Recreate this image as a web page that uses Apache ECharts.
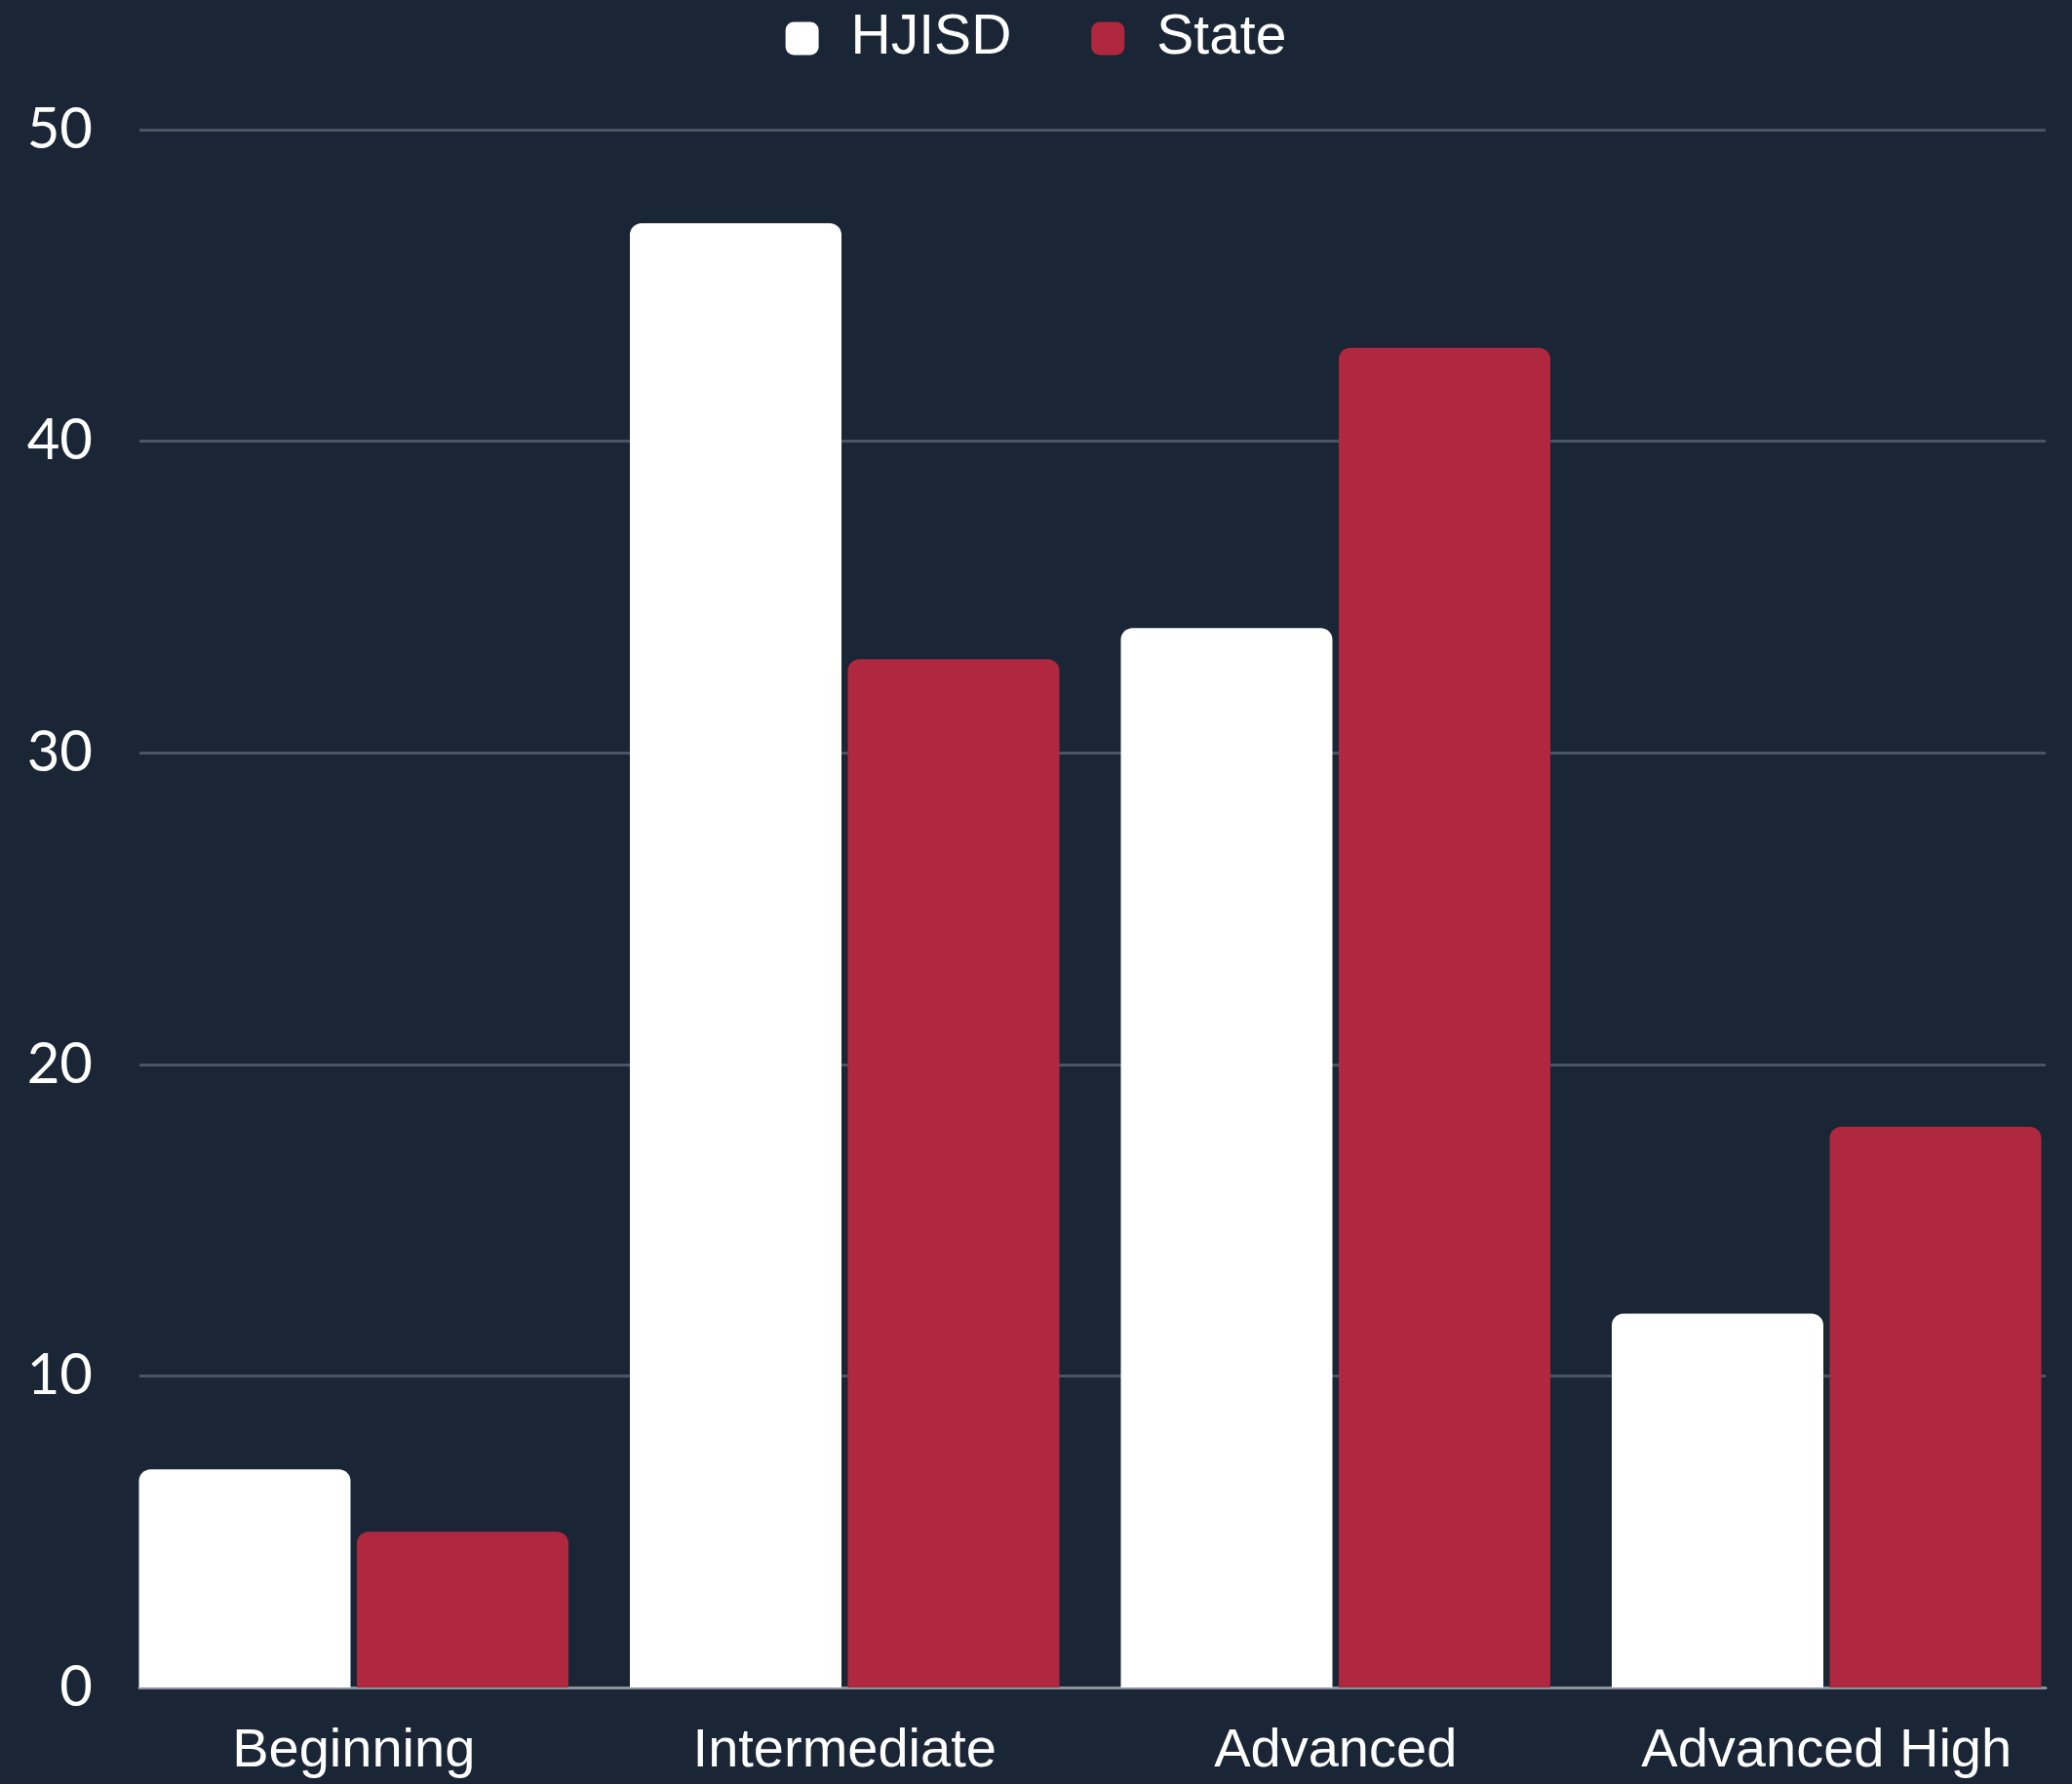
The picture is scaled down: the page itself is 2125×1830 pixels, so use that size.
<!DOCTYPE html>
<html>
<head>
<meta charset="utf-8">
<script src="https://cdn.jsdelivr.net/npm/echarts@6/dist/echarts.min.js"></script>
<style>
html,body{margin:0;padding:0;background:#1a2535;}
#chart{width:2125px;height:1830px;}
</style>
</head>
<body>
<div id="chart"></div>
<script>
const categories = ['Beginning', 'Intermediate', 'Advanced', 'Advanced High'];
const seriesNames = ['HJISD', 'State'];
const hjisdValues = [7, 47, 34, 12];
const stateValues = [5, 33, 43, 18];
const yTicks = [0, 10, 20, 30, 40, 50];

const chart = echarts.init(document.getElementById('chart'));
const labelFont = '"Liberation Sans Narrow", "Liberation Sans", sans-serif';
chart.setOption({
  backgroundColor: '#1a2535',
  animation: false,
  legend: {
    top: 6,
    left: 'center',
    itemWidth: 34,
    itemHeight: 34,
    itemGap: 82,
    icon: 'roundRect',
    data: seriesNames,
    textStyle: { color: '#ffffff', fontFamily: labelFont, fontSize: 57, padding: [0, 0, 0, 28] }
  },
  grid: [
    { left: 143, width: 1955, top: 133, height: 1598 },
    { left: 111, width: 2022, top: 133, height: 1598 }
  ],
  xAxis: [
    { gridIndex: 0, type: 'value', min: 0, max: 1, splitLine: { show: false },
      axisLabel: { show: false }, axisTick: { show: false },
      axisLine: { show: true, lineStyle: { color: '#8c939d', width: 3 } } },
    { gridIndex: 1, type: 'category', data: categories,
      axisLine: { show: false }, axisTick: { show: false },
      axisLabel: { color: '#ffffff', fontFamily: labelFont, fontSize: 56, margin: 38, interval: 0 } }
  ],
  yAxis: [
    { gridIndex: 0, type: 'value', min: yTicks[0], max: yTicks[yTicks.length - 1], interval: 10,
      axisLine: { show: false }, axisTick: { show: false },
      axisLabel: { color: '#ffffff', fontFamily: 'Lato, sans-serif', fontSize: 58, margin: 48 },
      splitLine: { show: true, lineStyle: { color: '#4a5463', width: 3 } } },
    { gridIndex: 1, type: 'value', min: yTicks[0], max: yTicks[yTicks.length - 1], interval: 10,
      show: false, splitLine: { show: false } }
  ],
  series: [
    { name: seriesNames[0], type: 'bar', xAxisIndex: 1, yAxisIndex: 1, data: hjisdValues,
      barWidth: 217, barGap: '3%', itemStyle: { color: '#ffffff', borderRadius: [12, 12, 0, 0] } },
    { name: seriesNames[1], type: 'bar', xAxisIndex: 1, yAxisIndex: 1, data: stateValues,
      barWidth: 217, barGap: '3%', itemStyle: { color: '#b0283f', borderRadius: [12, 12, 0, 0] } }
  ]
});
</script>
</body>
</html>
